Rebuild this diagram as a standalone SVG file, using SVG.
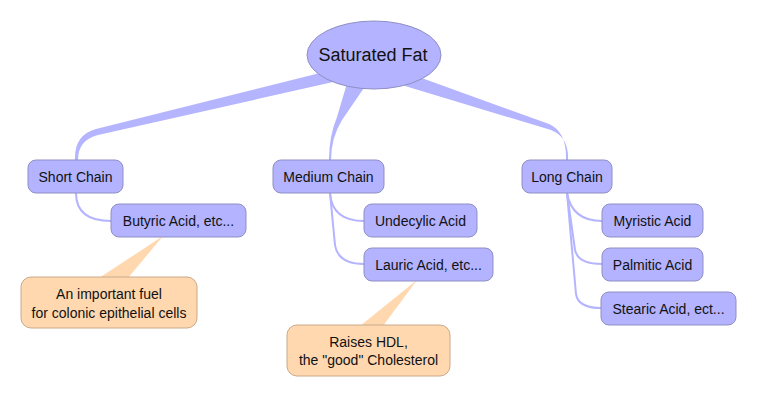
<svg xmlns="http://www.w3.org/2000/svg" width="757" height="397" viewBox="0 0 757 397">
<style>
.n{fill:#b3b3ff;stroke:#8f8fc4;stroke-width:1}
.c{fill:#ffd8b0;stroke:#c9a98a;stroke-width:1}
.t{font-family:"Liberation Sans",Arial,sans-serif;font-size:14px;fill:#111;text-anchor:middle}
.big{font-size:18px}
.l{fill:none;stroke:#b4b4ff;stroke-width:2}
.w{fill:#b4b4ff;stroke:none}
.p{fill:#ffd8b0;stroke:none}
</style>
<rect width="757" height="397" fill="#fff"/>
<g id="connectors">
<path class="w" d="M 340,68 L 96,129 Q 74,135 75,160 L 78,160 Q 78,140 98,135 L 342,80 Z"/>
<path class="w" d="M 348,80 L 337,117 Q 329,136 329,160 L 331,160 Q 331,138 342,120 L 368,82 Z"/>
<path class="w" d="M 405,72 L 549,124 Q 567,132 566,160 L 568,160 Q 569,137 551,130 L 405,86 Z"/>
<path class="l" d="M 76,193 Q 76,221 111,221"/>
<path class="l" d="M 330,193 Q 332,221 364,221"/>
<path class="l" d="M 330,193 L 335,245 Q 338,264 364,264"/>
<path class="l" d="M 567,193 Q 572,221 602,221"/>
<path class="l" d="M 567,193 L 575,250 Q 578,264 602,264"/>
<path class="l" d="M 567,193 L 576,294 Q 578,308 601,308"/>
</g>
<g id="callout-pointers">
<path class="p" d="M 163,236 L 99,278 L 128,278 Z"/>
<path class="p" d="M 417,280 L 360,326 L 383,326 Z"/>
</g>
<g id="saturated-fat">
<ellipse class="n" cx="374" cy="55" rx="67" ry="34"/>
<text class="t big" x="373" y="61">Saturated Fat</text>
</g>
<g id="short-chain">
<rect class="n" x="28" y="160" width="95" height="33" rx="8"/>
<text class="t" x="75.5" y="181.5">Short Chain</text>
</g>
<g id="butyric">
<rect class="n" x="111" y="204" width="135" height="33" rx="8"/>
<text class="t" x="178.5" y="225.5">Butyric Acid, etc...</text>
</g>
<g id="medium-chain">
<rect class="n" x="273" y="160" width="111" height="33" rx="8"/>
<text class="t" x="328.5" y="181.5">Medium Chain</text>
</g>
<g id="undecylic">
<rect class="n" x="364" y="204" width="113" height="33" rx="8"/>
<text class="t" x="420.5" y="225.5">Undecylic Acid</text>
</g>
<g id="lauric">
<rect class="n" x="364" y="248" width="129" height="33" rx="8"/>
<text class="t" x="428.5" y="269.5">Lauric Acid, etc...</text>
</g>
<g id="long-chain">
<rect class="n" x="522" y="160" width="90" height="33" rx="8"/>
<text class="t" x="567" y="181.5">Long Chain</text>
</g>
<g id="myristic">
<rect class="n" x="602" y="204" width="101" height="33" rx="8"/>
<text class="t" x="652.5" y="225.5">Myristic Acid</text>
</g>
<g id="palmitic">
<rect class="n" x="602" y="248" width="101" height="33" rx="8"/>
<text class="t" x="652.5" y="269.5">Palmitic Acid</text>
</g>
<g id="stearic">
<rect class="n" x="601" y="292" width="135" height="33" rx="8"/>
<text class="t" x="668.5" y="313.5">Stearic Acid, ect...</text>
</g>
<g id="note-fuel">
<rect class="c" x="21" y="277" width="176" height="51" rx="10"/>
<text class="t" x="109" y="299">An important fuel</text>
<text class="t" x="109" y="318">for colonic epithelial cells</text>
</g>
<g id="note-hdl">
<rect class="c" x="287" y="325" width="163" height="51" rx="10"/>
<text class="t" x="368.5" y="347">Raises HDL,</text>
<text class="t" x="368.5" y="365">the "good" Cholesterol</text>
</g>
</svg>
